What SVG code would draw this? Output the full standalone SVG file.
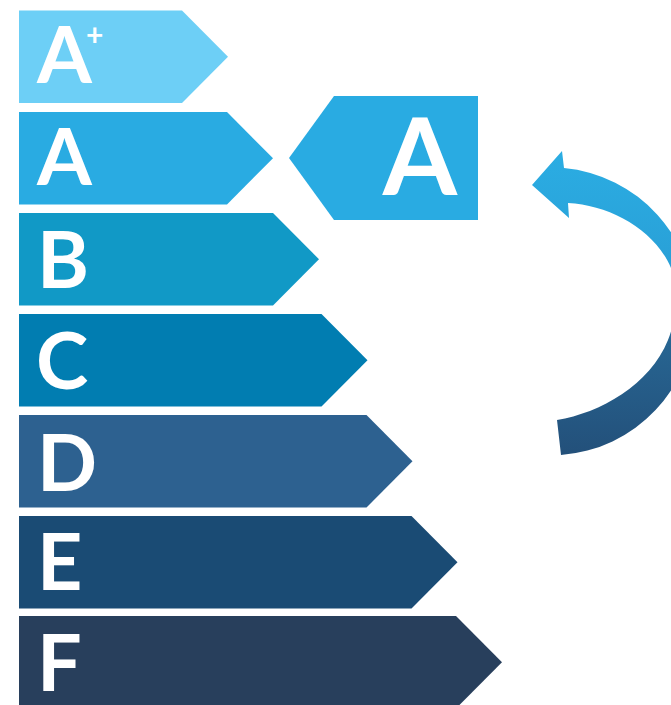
<svg xmlns="http://www.w3.org/2000/svg" width="671" height="705" viewBox="0 0 671 705">
<style>
  .lbl { font-family: Lato, "Open Sans", "Liberation Sans", sans-serif; font-weight: 700; fill: #ffffff; font-size: 79px; }
  .big { font-size: 107px; }
  .plus { font-size: 30px; }
</style>
<defs>
  <linearGradient id="arrowGrad" gradientUnits="userSpaceOnUse" x1="0" y1="150" x2="0" y2="455">
    <stop offset="0" stop-color="#2BADE3"/>
    <stop offset="0.38" stop-color="#29A0D7"/>
    <stop offset="0.62" stop-color="#276592"/>
    <stop offset="1" stop-color="#23507A"/>
  </linearGradient>
</defs>
<rect width="671" height="705" fill="#ffffff"/>

<g id="bar-aplus">
  <polygon points="19,10.5 182,10.5 228,56.75 182,103 19,103" fill="#6DCFF6"/>
  <text class="lbl" x="37" y="83">A<tspan class="plus" dx="-6" dy="-37">+</tspan></text>
</g>
<g id="bar-a">
  <polygon points="19,112 227,112 273,158.25 227,204.5 19,204.5" fill="#29ABE2"/>
  <text class="lbl" x="37" y="185">A</text>
</g>
<g id="bar-b">
  <polygon points="19,213 273,213 319,259.25 273,305.5 19,305.5" fill="#1199C6"/>
  <text class="lbl" x="37" y="288">B</text>
</g>
<g id="bar-c">
  <polygon points="19,314 321.5,314 367.5,360.25 321.5,406.5 19,406.5" fill="#017DB1"/>
  <text class="lbl" x="36" y="389">C</text>
</g>
<g id="bar-d">
  <polygon points="19,415 366.5,415 412.5,461.25 366.5,507.5 19,507.5" fill="#2D6190"/>
  <text class="lbl" x="37" y="491">D</text>
</g>
<g id="bar-e">
  <polygon points="19,516 411.5,516 457.5,562.25 411.5,608.5 19,608.5" fill="#1A4B74"/>
  <text class="lbl" x="37" y="590">E</text>
</g>
<g id="bar-f">
  <polygon points="19,616 456,616 502,662.25 456,708.5 19,708.5" fill="#283F5C"/>
  <text class="lbl" x="37" y="691">F</text>
</g>

<g id="indicator">
  <polygon points="334,96 478,96 478,220 334,220 289,158" fill="#29ABE2"/>
  <text class="lbl big" x="420" y="195" text-anchor="middle">A</text>
</g>

<g id="connectors">
  <path d="M 564 168 A 144 144 0 0 1 561 455 L 557 420 C 600 413 650 385 668 340 C 677 318 678 290 671 268 C 655 230 610 205 568 203 L 569 218 L 532 185 L 562 151 Z" fill="url(#arrowGrad)"/>
</g>
</svg>
